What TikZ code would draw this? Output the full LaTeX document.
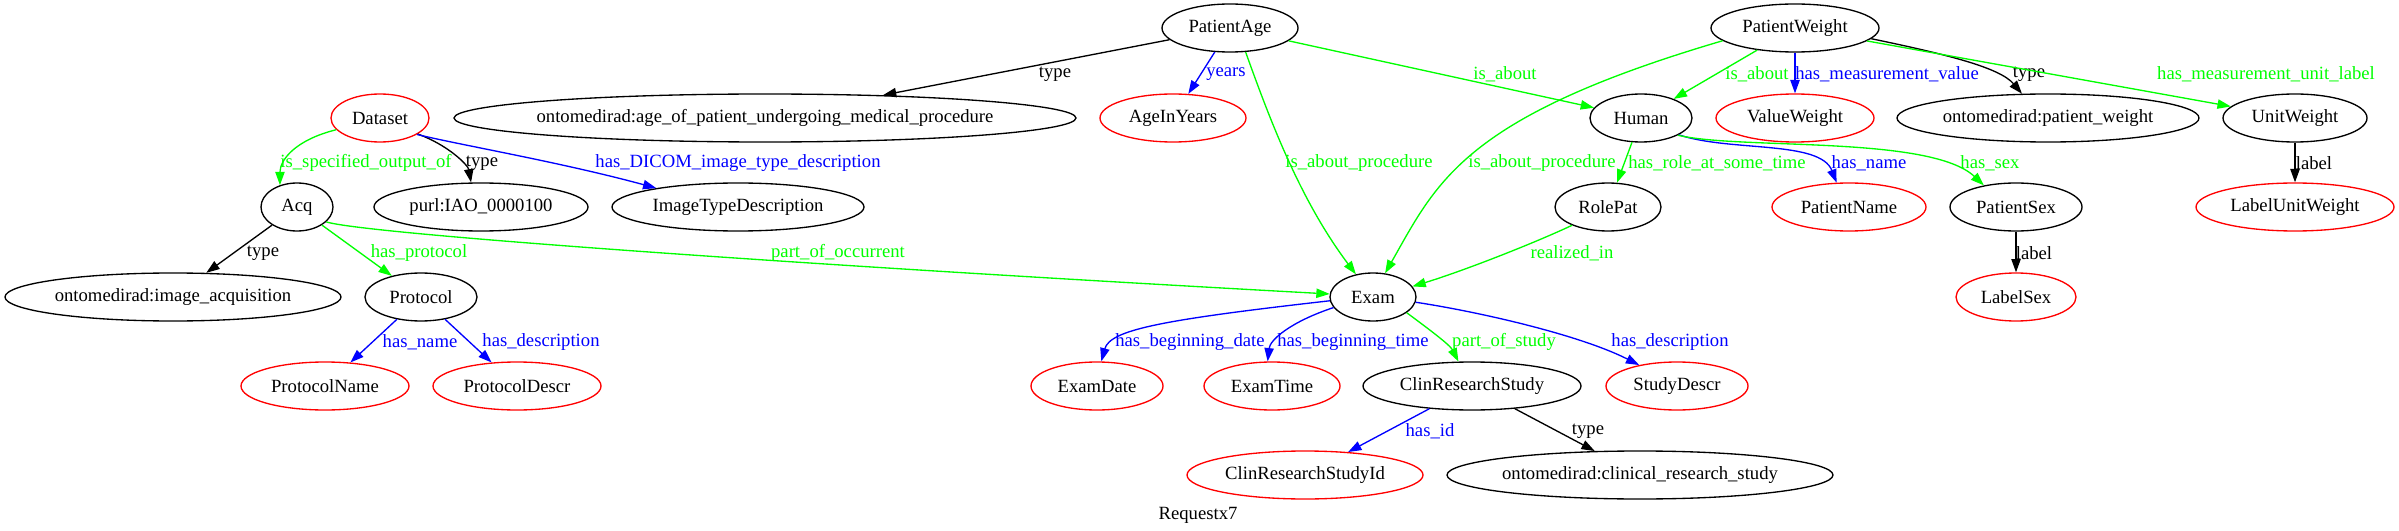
\documentclass[tikz,border=0pt]{standalone}
\usepackage{fontspec}
\setmainfont{Liberation Serif}
\usetikzlibrary{shapes.geometric,arrows.meta}
\definecolor{gvgreen}{RGB}{0,255,0}
\definecolor{gvblue}{RGB}{0,0,255}
\definecolor{gvred}{RGB}{255,0,0}
\newcommand\gvt[1]{\makebox[0pt]{#1}}
\tikzset{
  gv/.style={ellipse, draw=black, line width=1pt, inner sep=0pt, minimum height=36pt, font=\fontsize{14}{16}\selectfont},
  rn/.style={draw=gvred},
  wd/.style={minimum width=#1*1.5pt},
  gvedge/.style={line width=1pt, -{Triangle[length=10pt,width=7pt]}},
  ge/.style={gvedge, color=gvgreen},
  be/.style={gvedge, color=gvblue},
  ke/.style={gvedge, color=black},
  lbl/.style={inner sep=0pt, font=\fontsize{14}{16}\selectfont},
}
\begin{document}
\begin{tikzpicture}[x=0.75pt,y=-0.75pt]
\useasboundingbox (0,0) rectangle (2399,531);
% nodes
\node[gv, rn, wd=49] (Dataset) at (380,118) {\gvt{Dataset}};
\node[gv, wd=311] (ageproc) at (765,118) {\gvt{ontomedirad:age\_of\_patient\_undergoing\_medical\_procedure}};
\node[gv, wd=68] (PatientAge) at (1230,28) {\gvt{PatientAge}};
\node[gv, rn, wd=73] (AgeInYears) at (1173,118) {\gvt{AgeInYears}};
\node[gv, wd=51] (Human) at (1641,118) {\gvt{Human}};
\node[gv, wd=84] (PatientWeight) at (1795,28) {\gvt{PatientWeight}};
\node[gv, rn, wd=79] (ValueWeight) at (1795,118) {\gvt{ValueWeight}};
\node[gv, wd=151] (patweight) at (2048,118) {\gvt{ontomedirad:patient\_weight}};
\node[gv, wd=72] (UnitWeight) at (2295,118) {\gvt{UnitWeight}};
\node[gv, wd=36] (Acq) at (297,207) {\gvt{Acq}};
\node[gv, wd=107] (purl) at (481,207) {\gvt{purl:IAO\_0000100}};
\node[gv, wd=126] (ImgType) at (738,207) {\gvt{ImageTypeDescription}};
\node[gv, wd=53] (RolePat) at (1608,207) {\gvt{RolePat}};
\node[gv, rn, wd=77] (PatientName) at (1849,207) {\gvt{PatientName}};
\node[gv, wd=66] (PatientSex) at (2016,207) {\gvt{PatientSex}};
\node[gv, rn, wd=99] (LabelUnitWeight) at (2295,207) {\gvt{LabelUnitWeight}};
\node[gv, wd=168] (imgacq) at (173,297) {\gvt{ontomedirad:image\_acquisition}};
\node[gv, wd=56] (Protocol) at (421,297) {\gvt{Protocol}};
\node[gv, wd=43] (Exam) at (1373,297) {\gvt{Exam}};
\node[gv, rn, wd=60] (LabelSex) at (2016,297) {\gvt{LabelSex}};
\node[gv, rn, wd=84] (ProtocolName) at (325,386) {\gvt{ProtocolName}};
\node[gv, rn, wd=84] (ProtocolDescr) at (517,386) {\gvt{ProtocolDescr}};
\node[gv, rn, wd=66] (ExamDate) at (1097,386) {\gvt{ExamDate}};
\node[gv, rn, wd=68] (ExamTime) at (1272,386) {\gvt{ExamTime}};
\node[gv, wd=109] (CRS) at (1472,386) {\gvt{ClinResearchStudy}};
\node[gv, rn, wd=71] (StudyDescr) at (1677,386) {\gvt{StudyDescr}};
\node[gv, rn, wd=118] (CRSId) at (1305,475) {\gvt{ClinResearchStudyId}};
\node[gv, wd=193] (clinstudy) at (1640,475) {\gvt{ontomedirad:clinical\_research\_study}};
\node[lbl] (title) at (1198,515) {Requestx7};
% edges
\draw[ke] (PatientAge) -- (ageproc) node[lbl] at (1055,74) {type};
\draw[be] (PatientAge) -- (AgeInYears) node[lbl] at (1226,74) {years};
\draw[ge] (PatientAge.-57) .. controls (1270,120) and (1300,200) .. (Exam.127) node[lbl] at (1359,163) {is\_about\_procedure};
\draw[ge] (PatientAge) -- (Human) node[lbl] at (1505,74) {is\_about};
\draw[ge] (PatientWeight.190) .. controls (1463,117) and (1437,182) .. (Exam.63) node[lbl] at (1542,163) {is\_about\_procedure};
\draw[ge] (PatientWeight) -- (Human) node[lbl] at (1757,74) {is\_about};
\draw[be] (PatientWeight) -- (ValueWeight) node[lbl] at (1887,74) {has\_measurement\_value};
\draw[ke] (PatientWeight.-8) .. controls (1950,55) and (2000,68) .. (patweight.137) node[lbl] at (2029,74) {type};
\draw[ge] (PatientWeight) -- (UnitWeight) node[lbl] at (2266,74) {has\_measurement\_unit\_label};
\draw[ke] (UnitWeight) -- (LabelUnitWeight) node[lbl] at (2314,163) {label};
\draw[ge] (Human) -- (RolePat) node[lbl] at (1717,163) {has\_role\_at\_some\_time};
\draw[be] (Human.-24) .. controls (1730,152) and (1820,140) .. (PatientName.117) node[lbl] at (1869,163) {has\_name};
\draw[ge] (Human.-25) .. controls (1740,150) and (1930,135) .. (PatientSex.146) node[lbl] at (1990,163) {has\_sex};
\draw[ke] (PatientSex) -- (LabelSex) node[lbl] at (2034,253) {label};
\draw[ge] (RolePat.207) .. controls (1530,245) and (1460,272) .. (Exam.15) node[lbl] at (1572,253) {realized\_in};
\draw[ge] (Dataset.195) .. controls (295,140) and (280,160) .. (Acq.128) node[lbl] at (366,163) {is\_specified\_output\_of};
\draw[ke] (Dataset.-23) .. controls (448,145) and (468,165) .. (purl.112) node[lbl] at (482,163) {type};
\draw[be] (Dataset.-24) .. controls (460,145) and (560,162) .. (ImgType.167) node[lbl] at (738,163) {has\_DICOM\_image\_type\_description};
\draw[ke] (Acq) -- (imgacq) node[lbl] at (263,253) {type};
\draw[ge] (Acq) -- (Protocol) node[lbl] at (419,253) {has\_protocol};
\draw[ge] (Acq.-27) .. controls (365,234) and (800,265) .. (Exam.176) node[lbl] at (838,253) {part\_of\_occurrent};
\draw[be] (Protocol) -- (ProtocolName) node[lbl] at (420,342) {has\_name};
\draw[be] (Protocol) -- (ProtocolDescr) node[lbl] at (541,342) {has\_description};
\draw[be] (Exam.185) .. controls (1160,320) and (1110,330) .. (ExamDate.80) node[lbl] at (1190,342) {has\_beginning\_date};
\draw[be] (Exam.195) .. controls (1290,322) and (1270,340) .. (ExamTime.100) node[lbl] at (1353,342) {has\_beginning\_time};
\draw[ge] (Exam.-25) .. controls (1430,330) and (1450,345) .. (CRS.119) node[lbl] at (1504,342) {part\_of\_study};
\draw[be] (Exam.-7) .. controls (1480,312) and (1580,335) .. (StudyDescr.151) node[lbl] at (1670,342) {has\_description};
\draw[be] (CRS) -- (CRSId) node[lbl] at (1430,431) {has\_id};
\draw[ke] (CRS) -- (clinstudy) node[lbl] at (1588,431) {type};
\end{tikzpicture}
\end{document}
